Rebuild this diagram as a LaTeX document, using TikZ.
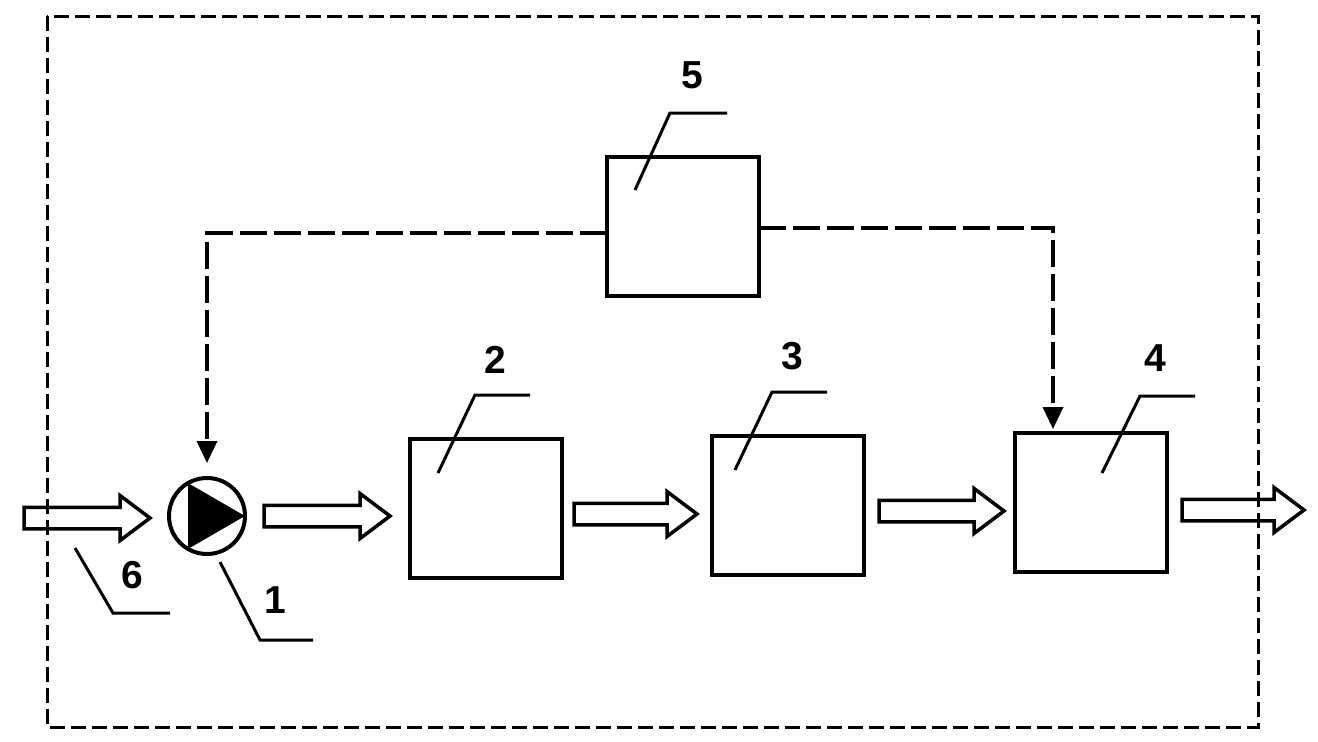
\documentclass[tikz,border=0pt]{standalone}
\usepackage{fontspec}
\setmainfont{Liberation Sans}
\usetikzlibrary{calc,arrows.meta}
\newcommand\blkarrow[4]{%
  \draw[blk,shift={(#2,#3)}] (0,-10.75) -- (#4-30,-10.75) -- (#4-30,-22.5) -- (#4,0)
    -- (#4-30,22.5) -- (#4-30,10.75) -- (0,10.75) -- cycle;
  \coordinate (#1) at (#2,#3);}
\begin{document}
\begin{tikzpicture}[x=1pt,y=-1pt,
  box/.style={draw,line width=4pt,minimum width=152pt,minimum height=139pt,inner sep=0pt,outer sep=0pt},
  pumpnode/.style={draw,circle,line width=4pt,minimum size=76pt,inner sep=0pt,outer sep=0pt},
  ctrl/.style={line width=3.5pt,dash pattern=on 27pt off 7pt,-{Triangle[width=20pt,length=22pt]}},
  frame/.style={line width=3pt,dash pattern=on 15pt off 6pt},
  blk/.style={draw,line width=3.5pt,line join=miter},
  leader/.style={line width=3pt},
  num/.style={font=\fontsize{39}{39}\selectfont\bfseries,inner sep=0pt}]
\useasboundingbox (0,0) rectangle (1318,742);
% outer dashed frame
\draw[frame] (47,16) rectangle (1258,727);
% units
\node[pumpnode] (pump) at (207,516) {};
\fill ($(pump.center)+(0:38)$) -- ($(pump.center)+(120:38)$) -- ($(pump.center)+(240:38)$) -- cycle;
\node[box] (b2) at (486,508.5) {};
\node[box] (b3) at (788,505.5) {};
\node[box] (b4) at (1091,502.5) {};
\node[box] (b5) at (682.5,226) {};
% block arrows (flow)
\blkarrow{a6}{24}{518}{126}
\blkarrow{a1}{264}{516}{126}
\blkarrow{a2}{574}{514}{123}
\blkarrow{a3}{879}{511}{125}
\blkarrow{a4}{1182}{510}{122}
% control lines
\draw[ctrl] ($(b5.west)+(0,7)$) -| ($(pump.north)+(0,-15)$);
\draw[ctrl] ($(b5.east)+(0,2)$) -| ($(b4.north)+(-38,-4)$);
% leaders and labels
\draw[leader] (75,548) -- (113,613) -- (170,613);
\node[num] (l6) at (132,575) {6};
\draw[leader] (220,562) -- (260,640) -- (313,640);
\node[num] (l1) at (275,600) {1};
\draw[leader] (438,473) -- (475,395) -- (530,395);
\node[num] (l2) at (495,360) {2};
\draw[leader] (735,470) -- (772,392) -- (827,392);
\node[num] (l3) at (792,356) {3};
\draw[leader] (1102,473) -- (1140,396) -- (1195,396);
\node[num] (l4) at (1155,358) {4};
\draw[leader] (635,190) -- (670,113) -- (727,113);
\node[num] (l5) at (692,75) {5};
\end{tikzpicture}
\end{document}
